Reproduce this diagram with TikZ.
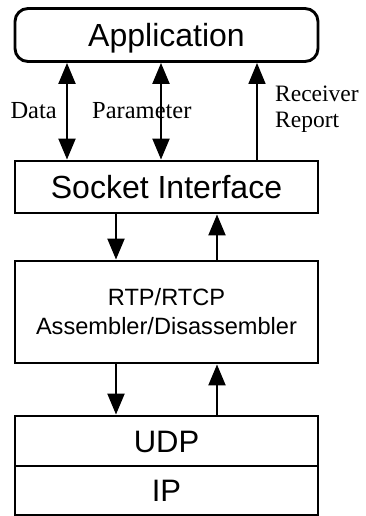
\documentclass[tikz,border=0pt]{standalone}
\usepackage{fontspec}
\setmainfont{Liberation Serif}
\setsansfont{Liberation Sans}
\usetikzlibrary{arrows.meta}

\begin{document}
\begin{tikzpicture}[x=1pt, y=-1pt, >={Triangle[width=17pt, length=21pt]},
    box/.style = {draw, line width=2.9pt, minimum width=303pt, inner sep=0pt},
    layer/.style = {box, font=\sffamily\fontsize{32}{36}\selectfont, text height=23pt, text depth=0pt},
    lbl/.style = {font=\fontsize{24.5}{26}\selectfont, inner sep=0pt, anchor=base west},
    arr/.style = {line width=2.2pt}]
  \useasboundingbox (0,0) rectangle (365,516);

  % protocol stack
  \node[layer, rounded corners=13pt, minimum height=53pt] (app) at (166.5,35) {Application};
  \node[layer, minimum height=52pt] (sock) at (166.5,187) {Socket Interface};
  \node[box, minimum height=102pt, align=center, font=\sffamily\fontsize{23.6}{29}\selectfont] (rtp) at (166.5,312)
    {RTP/RTCP\\Assembler/Disassembler};
  \node[layer, font=\sffamily\fontsize{31}{36}\selectfont, text height=22pt, minimum height=50pt] (udp) at (166.5,441) {UDP};
  \node[layer, font=\sffamily\fontsize{31}{36}\selectfont, text height=22pt, minimum height=49pt] (ip) at (166.5,490.5) {IP};

  % arrow columns
  \coordinate (cData) at (67,0);
  \coordinate (cPar) at (161,0);
  \coordinate (cRecv) at (257,0);
  \coordinate (cDn) at (116,0);
  \coordinate (cUp) at (217,0);

  \node[lbl, anchor=base east] (data) at (57,118) {Data};
  \node[lbl] (param) at (92,118) {Parameter};
  \node[lbl, font=\fontsize{23.5}{26}\selectfont] (recv) at (275,102) {Receiver};
  \node[lbl, font=\fontsize{23.5}{26}\selectfont] (rep) at (275,128) {Report};

  \draw[arr, <->] (app.south -| cData) -- (sock.north -| cData);
  \draw[arr, <->] (app.south -| cPar) -- (sock.north -| cPar);
  \draw[arr, line width=1.6pt, ->] (sock.north -| cRecv) -- (app.south -| cRecv);

  \foreach \hi/\lo in {sock/rtp, rtp/udp}{
    \draw[arr, ->] (\hi.south -| cDn) -- (\lo.north -| cDn);
    \draw[arr, ->] (\lo.north -| cUp) -- (\hi.south -| cUp);
  }
\end{tikzpicture}
\end{document}
